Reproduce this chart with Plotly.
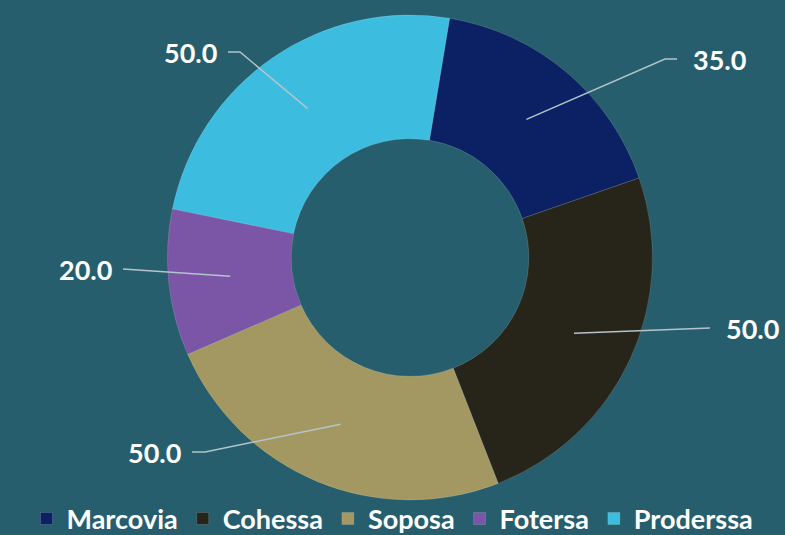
import numpy as np
import plotly.graph_objects as go

# data
categories = ["Marcovia", "Cohessa", "Soposa", "Fotersa", "Proderssa"]
values = [35.0, 50.0, 50.0, 20.0, 50.0]
value_labels = ["35.0", "50.0", "50.0", "20.0", "50.0"]

colors = ["#0b2163", "#27241a", "#a39861", "#7b55a6", "#3cbde0"]
bg = "#265e6d"

W, H = 785, 535
# pie geometry (pixels)
cx, cy = 410, 257.5
R = 242.5
hole = 0.49
rotation = 9.4

# leader line layout: (elbow, end) in pixels, text side
leader = [
    ((665, 59), (677, 59), "right"),
    ((710, 328), (710, 328), "right"),
    ((205, 452), (192, 452), "left"),
    ((123, 269), (123, 269), "left"),
    ((240, 52), (228, 52), "left"),
]

fig = go.Figure()
fig.add_trace(go.Pie(
    labels=categories, values=values, sort=False, direction="clockwise",
    rotation=rotation, hole=hole, textinfo="none", hoverinfo="skip",
    marker=dict(colors=colors, line=dict(color="rgba(255,255,255,0.15)", width=1)),
    domain=dict(x=[(cx - R) / W, (cx + R) / W], y=[(H - cy - R) / H, (H - cy + R) / H]),
))

# anchors at the middle of each ring segment
total = sum(values)
start = rotation
r_mid = R * (1 + hole) / 2
for i, v in enumerate(values):
    mid = np.radians(start + v / total * 180)
    start += v / total * 360
    ax, ay = cx + r_mid * np.sin(mid), cy - r_mid * np.cos(mid)
    elbow, end, side = leader[i]
    fig.add_shape(
        type="path", xref="x", yref="y", layer="above",
        path="M %.1f %.1f L %.1f %.1f L %.1f %.1f" % (ax, ay, elbow[0], elbow[1], end[0], end[1]),
        line=dict(color="#b4c4cb", width=1.5),
    )
    fig.add_annotation(
        x=end[0] + (14 if side == "right" else -9), y=end[1], xref="x", yref="y",
        text="<b>%s</b>" % value_labels[i], showarrow=False,
        xanchor="left" if side == "right" else "right", yanchor="middle",
        font=dict(family="Lato", size=27, color="white"),
    )

fig.update_layout(
    width=W, height=H, margin=dict(l=0, r=0, t=0, b=0, autoexpand=False),
    paper_bgcolor=bg, plot_bgcolor=bg,
    xaxis=dict(range=[0, W], visible=False, fixedrange=True),
    yaxis=dict(range=[H, 0], visible=False, fixedrange=True),
    legend=dict(orientation="h", x=0.5, xanchor="center", y=0.03, yanchor="middle",
                bgcolor="rgba(0,0,0,0)",
                font=dict(family="Lato", size=27, color="white", weight="bold"),
                itemwidth=30, tracegroupgap=0),
    showlegend=True,
)
fig.write_html("out.html", config=dict(displayModeBar=False),
               post_script="document.body.style.margin='0';")
